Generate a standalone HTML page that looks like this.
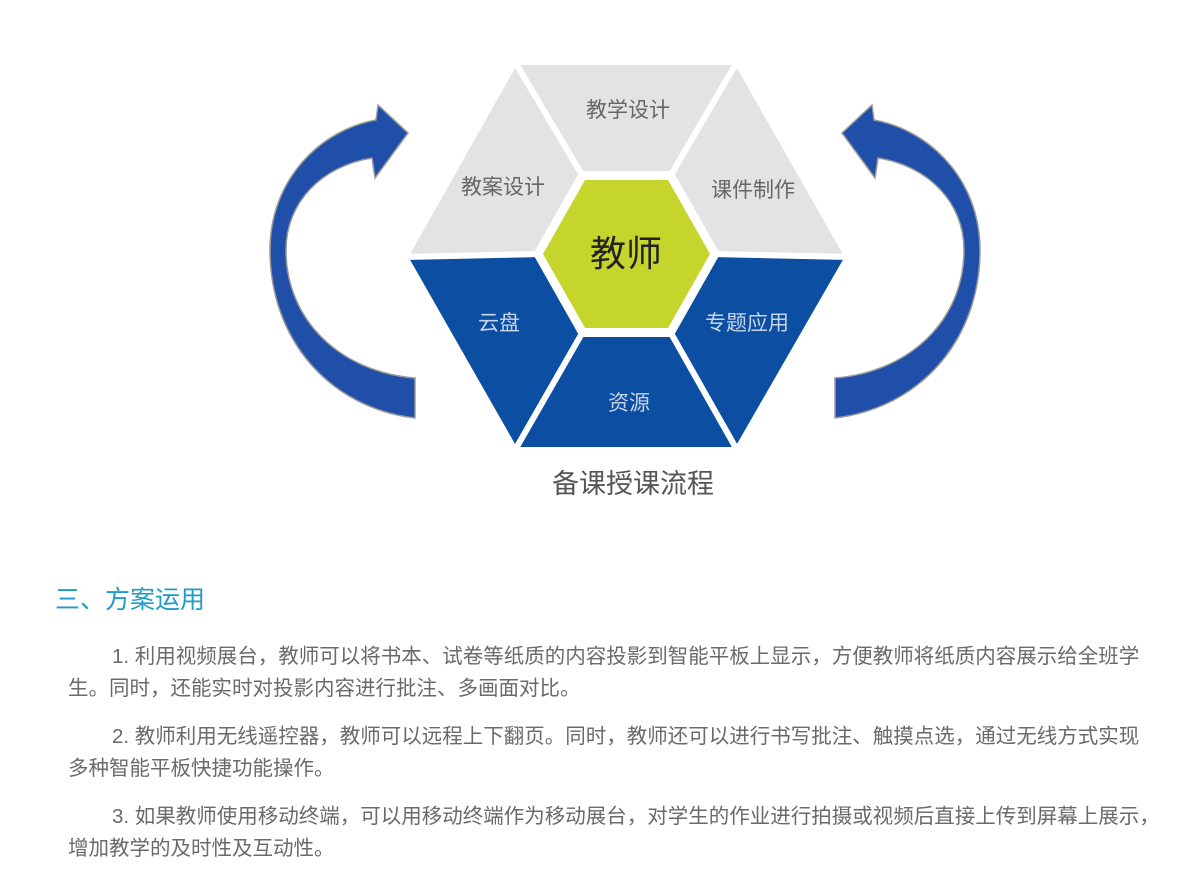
<!DOCTYPE html>
<html><head><meta charset="utf-8"><style>
body{margin:0;width:1200px;height:874px;background:#fff;position:relative;overflow:hidden;font-family:"Liberation Sans","Noto Sans CJK SC",sans-serif;}
svg{position:absolute;left:0;top:0}
.h{position:absolute;left:55px;top:580px;font-size:25px;color:#1f9bc8;white-space:nowrap}
.p{position:absolute;left:68px;font-size:20.5px;color:#6a6a6a;white-space:nowrap;line-height:32px}
</style></head><body>
<svg width="1200" height="560" viewBox="0 0 1200 560">
<g stroke="#fff" stroke-width="6" stroke-linejoin="miter">
<polygon points="515,62 737,62 668,180 585,180" fill="#e3e3e5"/>
<polygon points="737,62 848,257 710,254 668,180" fill="#e3e3e5"/>
<polygon points="515,62 585,180 543,254 405,257" fill="#e3e3e5"/>
<polygon points="848,257 737,450 668,328 710,254" fill="#0b4ea2"/>
<polygon points="737,450 515,450 585,328 668,328" fill="#0b4ea2"/>
<polygon points="515,450 405,257 543,254 585,328" fill="#0b4ea2"/>
</g>
<polygon points="580,171 673,171 720,254 673,337 580,337 533,254" fill="#fff"/>
<polygon points="585,180 668,180 710,254 668,328 585,328 543,254" fill="#c5d52c"/>
<g id="arr" fill="#1f4fa9" stroke="#9a9a9a" stroke-width="1.5">
<path d="M415,418 C330,408 270,340 270,250 C270,180 320,130 376,120 L378,105 L408,133 L375,178 L372,158 C322,166 286,202 286,250 C286,320 340,372 415,378 Z"/>
</g>
<use href="#arr" transform="translate(1250,0) scale(-1,1)"/>
<g font-family="Liberation Sans, Noto Sans CJK SC, sans-serif" text-anchor="middle">
<text x="628" y="117" font-size="21" fill="#666">教学设计</text>
<text x="503" y="194" font-size="21" fill="#666">教案设计</text>
<text x="753" y="197" font-size="21" fill="#666">课件制作</text>
<text x="626" y="266" font-size="36" fill="#222">教师</text>
<text x="499" y="330" font-size="21" fill="#c8d4ea">云盘</text>
<text x="747" y="330" font-size="21" fill="#c8d4ea">专题应用</text>
<text x="629" y="410" font-size="21" fill="#c8d4ea">资源</text>
<text x="633" y="493" font-size="27" fill="#555">备课授课流程</text>
</g>
</svg>
<div class="h">三、方案运用</div>
<div class="p" style="top:641px"><span style="padding-left:44px">1. 利用视频展台，教师可以将书本、试卷等纸质的内容投影到智能平板上显示，方便教师将纸质内容展示给全班学</span><br>生。同时，还能实时对投影内容进行批注、多画面对比。</div>
<div class="p" style="top:721px"><span style="padding-left:44px">2. 教师利用无线遥控器，教师可以远程上下翻页。同时，教师还可以进行书写批注、触摸点选，通过无线方式实现</span><br>多种智能平板快捷功能操作。</div>
<div class="p" style="top:801px"><span style="padding-left:44px">3. 如果教师使用移动终端，可以用移动终端作为移动展台，对学生的作业进行拍摄或视频后直接上传到屏幕上展示，</span><br>增加教学的及时性及互动性。</div>
</body></html>
